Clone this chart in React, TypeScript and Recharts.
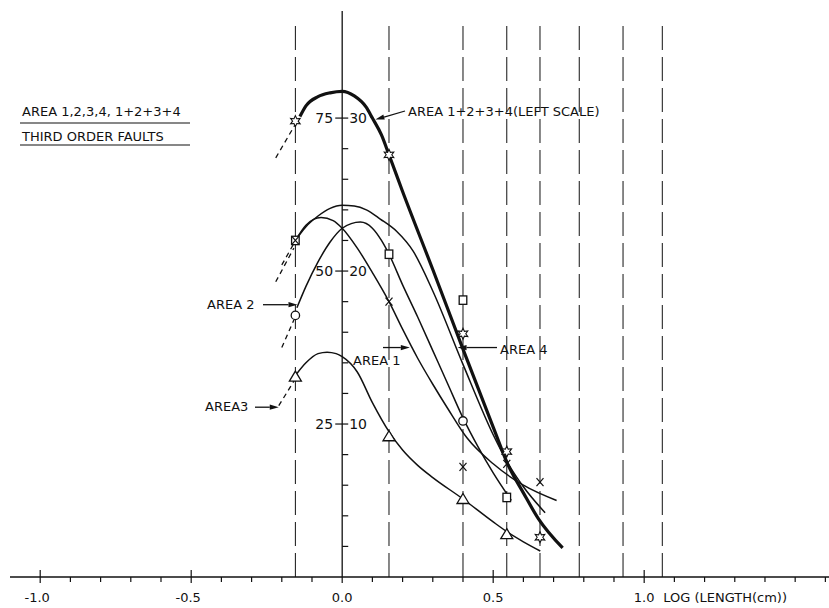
import { ComposedChart, Line, Scatter, XAxis, YAxis, ReferenceLine, Label } from 'recharts'

const FONT = '"DejaVu Sans", sans-serif'
const INK = '#111'

// x = log10 of fault length (cm), y = right-hand scale (left scale = 2.5 x right)
const xTicks = [-1.0, -0.9, -0.8, -0.7, -0.6, -0.5, -0.4, -0.3, -0.2, -0.1, 0, 0.1, 0.2, 0.3, 0.4, 0.5, 0.6, 0.7, 0.8, 0.9, 1.0, 1.1, 1.2, 1.3, 1.4, 1.5, 1.6]
const xMajor = [-1.0, -0.5, 0, 0.5, 1.0]
const xMajorLabels = ['-1.0', '-0.5', '0.0', '0.5', '1.0']
const yTicks = [2, 4, 6, 8, 10, 12, 14, 16, 18, 20, 22, 24, 26, 28, 30]
const yLabelled = [10, 20, 30]
const rightScaleLabels = ['10', '20', '30']
const leftScaleLabels = ['25', '50', '75']
const classBounds = [-0.155, 0.155, 0.40, 0.545, 0.655, 0.785, 0.93, 1.06]

// fitted curves
const totalX = [-0.14, -0.12, -0.08, -0.04, 0, 0.04, 0.08, 0.1, 0.13, 0.155, 0.2, 0.3, 0.4, 0.5, 0.55, 0.6, 0.65, 0.73]
const totalY = [30.1, 30.8, 31.4, 31.65, 31.75, 31.45, 30.7, 30.0, 28.9, 27.6, 25.2, 20.1, 14.9, 9.8, 7.3, 5.5, 3.8, 1.9]
const area4X = [-0.155, -0.12, -0.08, -0.04, 0, 0.04, 0.08, 0.126, 0.18, 0.235, 0.3, 0.4, 0.5, 0.55, 0.6, 0.672]
const area4Y = [22.0, 22.9, 23.6, 24.1, 24.3, 24.25, 24.0, 23.4, 22.6, 21.3, 18.7, 13.9, 9.3, 7.4, 5.9, 4.2]
const area1X = [-0.155, -0.12, -0.07, -0.03, 0, 0.05, 0.1, 0.155, 0.2, 0.25, 0.3, 0.35, 0.413, 0.5, 0.6, 0.71]
const area1Y = [22.0, 23.0, 23.5, 23.3, 22.8, 21.5, 19.9, 18.0, 16.2, 14.3, 12.6, 11.0, 9.1, 7.4, 6.0, 5.0]
const area2X = [-0.15, -0.12, -0.08, -0.04, 0, 0.03, 0.06, 0.1, 0.13, 0.155, 0.2, 0.25, 0.3, 0.35, 0.4, 0.45, 0.5, 0.56]
const area2Y = [17.6, 19.0, 20.6, 21.9, 22.8, 23.1, 23.2, 22.8, 22.0, 21.1, 19.1, 17.0, 14.8, 12.6, 10.4, 8.5, 6.8, 5.0]
const area3X = [-0.15, -0.12, -0.08, -0.05, -0.02, 0, 0.05, 0.1, 0.155, 0.2, 0.25, 0.3, 0.4, 0.5, 0.55, 0.6, 0.656]
const area3Y = [13.3, 14.0, 14.6, 14.7, 14.6, 14.4, 13.4, 11.4, 9.5, 8.3, 7.3, 6.5, 5.1, 3.6, 2.9, 2.3, 1.7]

// dashed extrapolations to the left
const totalDashX = [-0.22, -0.155]
const totalDashY = [27.4, 29.6]
const area4DashX = [-0.2, -0.16]
const area4DashY = [20.4, 21.8]
const area1DashX = [-0.22, -0.16]
const area1DashY = [19.3, 21.5]
const area2DashX = [-0.2, -0.16]
const area2DashY = [15.0, 16.8]
const area3DashX = [-0.21, -0.16]
const area3DashY = [11.2, 12.8]

// observed points
const starX = [-0.155, 0.155, 0.40, 0.545, 0.655]
const starY = [29.8, 27.6, 15.9, 8.2, 2.6]
const squareX = [-0.155, 0.155, 0.40, 0.545]
const squareY = [22.0, 21.1, 18.1, 5.2]
const crossX = [-0.155, 0.155, 0.40, 0.545, 0.655]
const crossY = [22.0, 18.0, 7.2, 7.4, 6.2]
const circleX = [-0.155, 0.40]
const circleY = [17.1, 10.2]
const triangleX = [-0.155, 0.155, 0.40, 0.545]
const triangleY = [13.1, 9.2, 5.1, 2.8]

const zip = (xs: number[], ys: number[]) => xs.map((x, i) => ({ x, y: ys[i] }))

const W = 829
const H = 608
const X_DOMAIN: [number, number] = [-1.1, 1.612]
const Y_DOMAIN: [number, number] = [0, 37]
const MARGIN = { top: 11, right: 0, bottom: 0, left: 10 }
const X_AXIS_H = 31

// same mapping the axes use; only for placing annotation text
const plotW = W - MARGIN.left - MARGIN.right
const plotH = H - MARGIN.top - MARGIN.bottom - X_AXIS_H
const px = (v: number) => MARGIN.left + ((v - X_DOMAIN[0]) / (X_DOMAIN[1] - X_DOMAIN[0])) * plotW
const py = (r: number) => MARGIN.top + ((Y_DOMAIN[1] - r) / (Y_DOMAIN[1] - Y_DOMAIN[0])) * plotH

const XTick = ({ x, payload }: any) => {
  const v = payload.value
  const y0 = py(0)
  const i = xMajor.findIndex(m => Math.abs(m - v) < 1e-6)
  if (i < 0) return <line x1={x} x2={x} y1={y0} y2={y0 + 5} stroke={INK} strokeWidth={1.2} />
  return (
    <g>
      <line x1={x} x2={x} y1={v === 0 ? y0 : y0 - 7} y2={y0 + 6} stroke={INK} strokeWidth={1.2} />
      <text x={x + (v < 0 ? -3 : 0)} y={y0 + 25} textAnchor="middle" fontSize={13} fontFamily={FONT} fill={INK}>
        {xMajorLabels[i]}
      </text>
    </g>
  )
}

const Star = ({ cx, cy }: any) => {
  const pts: string[] = []
  for (let k = 0; k < 12; k++) {
    const r = k % 2 === 0 ? 5.5 : 2.8
    const a = -Math.PI / 2 + (k * Math.PI) / 6
    pts.push(`${cx + r * Math.cos(a)},${cy + r * Math.sin(a)}`)
  }
  return <polygon points={pts.join(' ')} fill="#fff" stroke={INK} strokeWidth={1.1} />
}
const Square = ({ cx, cy }: any) => (
  <rect x={cx - 3.8} y={cy - 4.2} width={7.6} height={8.4} fill="#fff" stroke={INK} strokeWidth={1.3} />
)
const Circle = ({ cx, cy }: any) => <circle cx={cx} cy={cy} r={4.2} fill="#fff" stroke={INK} strokeWidth={1.3} />
const Triangle = ({ cx, cy }: any) => (
  <polygon points={`${cx},${cy - 5.5} ${cx + 6},${cy + 4.5} ${cx - 6},${cy + 4.5}`} fill="#fff" stroke={INK} strokeWidth={1.3} />
)
const Cross = ({ cx, cy }: any) => (
  <g stroke={INK} strokeWidth={1.2}>
    <line x1={cx - 3.5} y1={cy - 4} x2={cx + 3.5} y2={cy + 4} />
    <line x1={cx + 3.5} y1={cy - 4} x2={cx - 3.5} y2={cy + 4} />
  </g>
)

function Arrow({ x1, y1, x2, y2 }: { x1: number; y1: number; x2: number; y2: number }) {
  const a = Math.atan2(y2 - y1, x2 - x1)
  const L = 9
  const w = 2.6
  const bx = x2 - L * Math.cos(a)
  const by = y2 - L * Math.sin(a)
  const nx = -Math.sin(a) * w
  const ny = Math.cos(a) * w
  return (
    <g>
      <line x1={x1} y1={y1} x2={bx} y2={by} stroke={INK} strokeWidth={1.3} />
      <polygon points={`${x2},${y2} ${bx + nx},${by + ny} ${bx - nx},${by - ny}`} fill={INK} />
    </g>
  )
}

function Annotations() {
  const x0 = px(0)
  return (
    <g fontFamily={FONT} fontSize={13} fill={INK}>
      {yLabelled.map((t, i) => (
        <g key={t} fontSize={14}>
          <text x={x0 - 9} y={py(t) + 5} textAnchor="end">{leftScaleLabels[i]}</text>
          <text x={x0 + 7} y={py(t) + 5} textAnchor="start">{rightScaleLabels[i]}</text>
        </g>
      ))}

      <text x={22} y={116}>AREA  1,2,3,4,  1+2+3+4</text>
      <line x1={20} x2={190} y1={123} y2={123} stroke={INK} strokeWidth={1.2} />
      <text x={22} y={141}>THIRD ORDER FAULTS</text>
      <line x1={20} x2={190} y1={145} y2={145} stroke={INK} strokeWidth={1.2} />

      <text x={408} y={116}>AREA 1+2+3+4(LEFT SCALE)</text>
      <Arrow x1={405} y1={111} x2={px(0.11)} y2={py(29.9)} />

      <text x={207} y={309}>AREA 2</text>
      <Arrow x1={263} y1={py(17.8)} x2={px(-0.148)} y2={py(17.8)} />

      <text x={353} y={365}>AREA 1</text>
      <Arrow x1={383} y1={py(15.0)} x2={px(0.224)} y2={py(15.0)} />

      <text x={500} y={354}>AREA 4</text>
      <Arrow x1={497} y1={py(15.0)} x2={px(0.382)} y2={py(15.0)} />

      <text x={205} y={411}>AREA3</text>
      <Arrow x1={255} y1={py(11.1)} x2={px(-0.21)} y2={py(11.1)} />
    </g>
  )
}

export default function App() {
  const curve = (xs: number[], ys: number[], width: number, dash?: string) => (
    <Line
      data={zip(xs, ys)}
      dataKey="y"
      type="monotone"
      stroke={INK}
      strokeWidth={width}
      strokeDasharray={dash}
      dot={false}
      activeDot={false}
      isAnimationActive={false}
    />
  )

  return (
    <div style={{ position: 'absolute', left: 0, top: 0, width: W, height: H, background: '#fff' }}>
      <ComposedChart width={W} height={H} margin={MARGIN}>
        <XAxis
          type="number"
          dataKey="x"
          domain={X_DOMAIN}
          allowDataOverflow
          ticks={xTicks}
          interval={0}
          tick={XTick}
          tickLine={false}
          axisLine={{ stroke: INK, strokeWidth: 1.3 }}
          height={X_AXIS_H}
        >
          <Label
            content={() => (
              <text x={px(1.0) + 19} y={py(0) + 25} fontSize={13} fontFamily={FONT} fill={INK}>
                LOG (LENGTH(cm))
              </text>
            )}
          />
        </XAxis>
        <YAxis type="number" dataKey="y" domain={Y_DOMAIN} allowDataOverflow hide />

        {classBounds.map(b => (
          <ReferenceLine
            key={b}
            segment={[{ x: b, y: 0 }, { x: b, y: 36.4 }]}
            stroke={INK}
            strokeWidth={1}
            strokeDasharray="24 7"
          />
        ))}
        <ReferenceLine x={0} stroke={INK} strokeWidth={1.3} />
        {yTicks.map(t => (
          <ReferenceLine
            key={`yt${t}`}
            segment={[{ x: yLabelled.includes(t) ? -0.023 : 0, y: t }, { x: 0.02, y: t }]}
            stroke={INK}
            strokeWidth={1.2}
          />
        ))}

        {curve(area3X, area3Y, 1.5)}
        {curve(area2X, area2Y, 1.5)}
        {curve(area1X, area1Y, 1.5)}
        {curve(area4X, area4Y, 1.5)}
        {curve(totalX, totalY, 3.2)}

        {curve(totalDashX, totalDashY, 1.3, '5 4')}
        {curve(area4DashX, area4DashY, 1.3, '5 4')}
        {curve(area1DashX, area1DashY, 1.3, '5 4')}
        {curve(area2DashX, area2DashY, 1.3, '5 4')}
        {curve(area3DashX, area3DashY, 1.3, '5 4')}

        <Scatter data={zip(squareX, squareY)} dataKey="y" shape={Square} isAnimationActive={false} />
        <Scatter data={zip(circleX, circleY)} dataKey="y" shape={Circle} isAnimationActive={false} />
        <Scatter data={zip(triangleX, triangleY)} dataKey="y" shape={Triangle} isAnimationActive={false} />
        <Scatter data={zip(crossX, crossY)} dataKey="y" shape={Cross} isAnimationActive={false} />
        <Scatter data={zip(starX, starY)} dataKey="y" shape={Star} isAnimationActive={false} />

        <Annotations />
      </ComposedChart>
    </div>
  )
}
